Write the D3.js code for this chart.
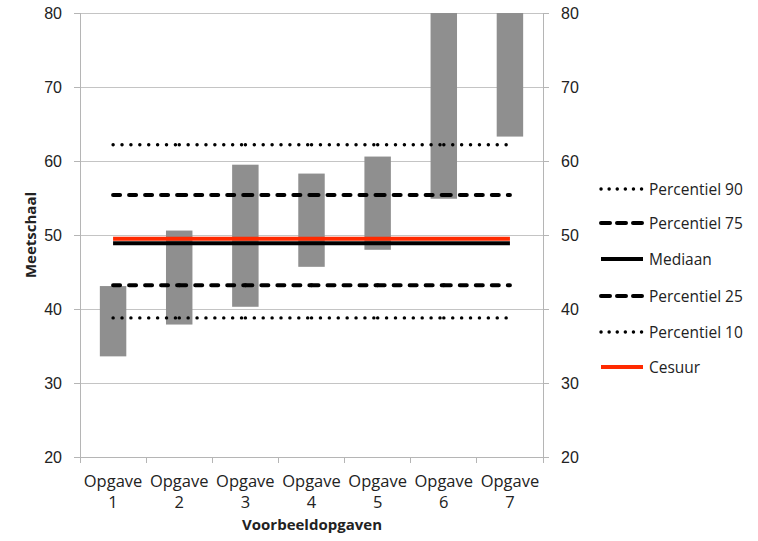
<!DOCTYPE html>
<html><head><meta charset="utf-8">
<script src="https://cdn.jsdelivr.net/npm/d3@7"></script>
<style>
body{margin:0;background:#fff;}
text{font-family:"Open Sans","Liberation Sans",sans-serif;fill:#222;}
</style></head>
<body><svg id="c" width="758" height="541"></svg>
<script>
const categories = ["Opgave 1","Opgave 2","Opgave 3","Opgave 4","Opgave 5","Opgave 6","Opgave 7"];
const barLow  = [33.6, 37.9, 40.3, 45.7, 48.0, 54.9, 63.3];
const barHigh = [43.1, 50.6, 59.5, 58.3, 60.6, 80, 80];
const p90     = [62.2, 62.2, 62.2, 62.2, 62.2, 62.2, 62.2];
const p75     = [55.4, 55.4, 55.4, 55.4, 55.4, 55.4, 55.4];
const mediaan = [48.9, 48.9, 48.9, 48.9, 48.9, 48.9, 48.9];
const p25     = [43.2, 43.2, 43.2, 43.2, 43.2, 43.2, 43.2];
const p10     = [38.8, 38.8, 38.8, 38.8, 38.8, 38.8, 38.8];
const cesuur  = [49.5, 49.5, 49.5, 49.5, 49.5, 49.5, 49.5];
const yTicks  = [20, 30, 40, 50, 60, 70, 80];

const svg = d3.select("#c");
const L = 80, R = 543, T = 13, B = 457;
const x = d3.scaleBand().domain(categories).range([L, R]).paddingInner(0.6).paddingOuter(0.3);
const y = d3.scaleLinear().domain([20, 80]).range([B, T]);
const cx = c => x(c) + x.bandwidth() / 2;

// gridlines
svg.append("g").selectAll("line").data(yTicks).join("line")
  .attr("x1", L).attr("x2", R).attr("y1", d => y(d)).attr("y2", d => y(d))
  .attr("stroke", "#c4c4c4").attr("stroke-width", 1).attr("shape-rendering", "crispEdges");

// axes
const axL = svg.append("g").attr("transform", `translate(${L},0)`)
  .call(d3.axisLeft(y).tickValues(yTicks).tickSize(6).tickPadding(12));
const axR = svg.append("g").attr("transform", `translate(${R},0)`)
  .call(d3.axisRight(y).tickValues(yTicks).tickSize(6).tickPadding(12));
[axL, axR].forEach(a => {
  a.selectAll("path,line").attr("stroke", "#b5b5b5").attr("shape-rendering", "crispEdges");
  a.selectAll("text").style("font-family", "'Liberation Sans',Arial,sans-serif").style("font-size", "16px").attr("fill", "#222");
});
axL.select(".domain").attr("d", `M0,${T}V${B}`);
axR.select(".domain").attr("d", `M0,${T}V${B}`);

// bottom axis
const bx = svg.append("g");
bx.append("line").attr("x1", L - 6).attr("x2", R + 6).attr("y1", B).attr("y2", B)
  .attr("stroke", "#b5b5b5").attr("shape-rendering", "crispEdges");
const bounds = categories.map(c => x(c) - x.step() * x.paddingInner() / 2).concat([R]);
bx.selectAll("line.t").data(bounds).join("line").attr("class", "t")
  .attr("x1", d => d).attr("x2", d => d).attr("y1", B).attr("y2", B + 6)
  .attr("stroke", "#b5b5b5").attr("shape-rendering", "crispEdges");
const cl = bx.selectAll("text").data(categories).join("text")
  .attr("text-anchor", "middle").style("font-size", "16.5px");
cl.append("tspan").attr("x", d => cx(d)).attr("y", 487).text(d => d.split(" ")[0]);
cl.append("tspan").attr("x", d => cx(d)).attr("y", 508).text(d => d.split(" ")[1]);

// bars
svg.append("g").selectAll("rect").data(categories).join("rect")
  .attr("x", d => x(d)).attr("width", x.bandwidth())
  .attr("y", (d, i) => y(barHigh[i])).attr("height", (d, i) => y(barLow[i]) - y(barHigh[i]))
  .attr("fill", "#8f8f8f");

// lines
const series = [
  {name: "Percentiel 90", vals: p90, color: "#000", w: 3.4, dash: "0.1 8.8", cap: "round"},
  {name: "Percentiel 75", vals: p75, color: "#000", w: 4, dash: "7 9", cap: "round"},
  {name: "Mediaan", vals: mediaan, color: "#000", w: 4, dash: null, cap: "butt"},
  {name: "Percentiel 25", vals: p25, color: "#000", w: 4, dash: "7 9", cap: "round"},
  {name: "Percentiel 10", vals: p10, color: "#000", w: 3.4, dash: "0.1 8.8", cap: "round"},
  {name: "Cesuur", vals: cesuur, color: "#ff2a00", w: 4, dash: null, cap: "butt"}
];
const drawOrder = [0, 1, 3, 4, 5, 2];
const lg = svg.append("g");
drawOrder.forEach(k => {
  const s = series[k];
  const pts = categories.map((c, i) => [cx(c), y(s.vals[i])]);
  if (s.dash) {
    for (let i = 0; i < pts.length - 1; i++) {
      lg.append("path").attr("d", d3.line()([pts[i], pts[i + 1]]))
        .attr("stroke", s.color).attr("stroke-width", s.w).attr("fill", "none")
        .attr("stroke-dasharray", s.dash).attr("stroke-linecap", s.cap);
    }
  } else {
    lg.append("path").attr("d", d3.line()(pts))
      .attr("stroke", s.color).attr("stroke-width", s.w).attr("fill", "none");
  }
});

// legend
const legY = [189, 223, 259, 296, 332, 367];
const leg = svg.append("g");
series.forEach((s, i) => {
  const g = leg.append("g").attr("transform", `translate(0,${legY[i]})`);
  g.append("line").attr("x1", 601).attr("x2", 643).attr("y1", 0).attr("y2", 0)
    .attr("stroke", s.color).attr("stroke-width", s.dash ? (s.w) : 4)
    .attr("stroke-dasharray", s.dash ? (s.dash.startsWith("0.1") ? "0.1 8" : "9 7") : null)
    .attr("stroke-linecap", s.cap);
  g.append("text").attr("x", 649).attr("y", 5.5).style("font-size", "15.5px").text(s.name);
});

// axis titles
svg.append("text").attr("x", 312).attr("y", 530).attr("text-anchor", "middle")
  .style("font-size", "15px").style("font-weight", "bold").text("Voorbeeldopgaven");
svg.append("text").attr("transform", "translate(36,235) rotate(-90)").attr("text-anchor", "middle")
  .style("font-size", "15px").style("font-weight", "bold").text("Meetschaal");
</script></body></html>
